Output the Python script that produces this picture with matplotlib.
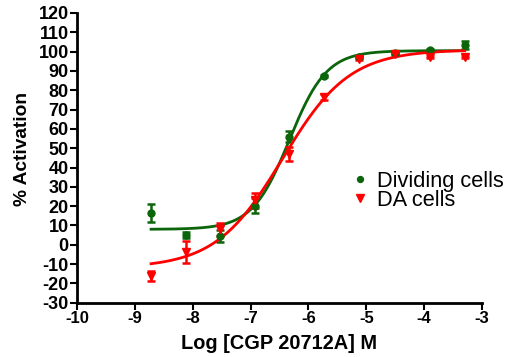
import numpy as np
import matplotlib
matplotlib.use('Agg')
import matplotlib.pyplot as plt

plt.rcParams['font.family'] = ['Liberation Sans', 'DejaVu Sans']

# log concentration of CGP 20712A (M)
logConc = [-8.72, -8.12, -7.53, -6.93, -6.33, -5.73, -5.13, -4.51, -3.90, -3.30]

# dividing cells: mean and error
dividingMean = [16.6, 5.0, 4.5, 20.3, 56.0, 87.3, 97.0, 99.5, 100.7, 103.3]
dividingErr = [4.7, 1.5, 3.0, 4.0, 3.0, 0.5, 0.5, 0.5, 0.5, 2.0]

# DA cells: mean and error
daMean = [-16.2, -3.6, 8.0, 23.0, 47.0, 76.6, 96.0, 99.0, 97.3, 97.3]
daErr = [2.8, 5.6, 3.5, 4.0, 3.5, 1.5, 0.5, 0.5, 0.5, 0.5]

# fitted 4-parameter logistic curves (bottom, top, logEC50, hill)
dividingFit = (8.0, 100.5, -6.33, 1.35)
daFit = (-12.0, 101.0, -6.45, 0.75)

xTicks = [-10, -9, -8, -7, -6, -5, -4, -3]
yTicks = list(range(-30, 121, 10))

green = '#0b650b'
red = '#ff0000'


def logistic(x, params):
    bottom, top, ec, hill = params
    return bottom + (top - bottom) / (1 + 10 ** ((ec - x) * hill))


fig = plt.figure(figsize=(5.09, 3.57), dpi=100)
ax = fig.add_axes([0.1513, 0.152, 0.7957, 0.8116])

xs = np.linspace(logConc[0], logConc[-1], 300)
ax.plot(xs, logistic(xs, dividingFit), color=green, lw=2, zorder=3)
ax.plot(xs, logistic(xs, daFit), color=red, lw=2, zorder=4)

ax.errorbar(logConc, dividingMean, yerr=dividingErr, fmt='none', ecolor=green,
            elinewidth=1.8, capsize=3, capthick=1.8, zorder=3)
ax.errorbar(logConc, daMean, yerr=daErr, fmt='none', ecolor=red,
            elinewidth=1.8, capsize=3, capthick=1.8, zorder=4)
ax.plot(logConc, dividingMean, 'o', color=green, ms=5, label='Dividing cells', zorder=5)
ax.plot(logConc, daMean, 'v', color=red, ms=6, label='DA cells', zorder=5)

ax.set_xlim(-10, -3)
ax.set_ylim(-30, 120)
ax.set_xticks(xTicks)
ax.set_yticks(yTicks)
ax.set_xticklabels([str(t) for t in xTicks], fontsize=12, fontweight='bold')
ax.set_yticklabels([str(t) for t in yTicks], fontsize=13, fontweight='bold')
ax.tick_params(direction='out', length=5, width=1.5, pad=1)

for side in ['top', 'right']:
    ax.spines[side].set_visible(False)
for side in ['left', 'bottom']:
    ax.spines[side].set_linewidth(2)

ax.set_xlabel('Log [CGP 20712A] M', fontsize=14.4, fontweight='bold', labelpad=6)
ax.set_ylabel('% Activation', fontsize=13.8, fontweight='bold')
ax.yaxis.set_label_coords(-0.113, 0.53)

ax.legend(loc='upper left', bbox_to_anchor=(0.656, 0.493), frameon=False,
          fontsize=15.7, markerscale=0.85, handlelength=0.6, handletextpad=0.48,
          labelspacing=-0.08, borderpad=0)

fig.savefig('out.png', dpi=100)
